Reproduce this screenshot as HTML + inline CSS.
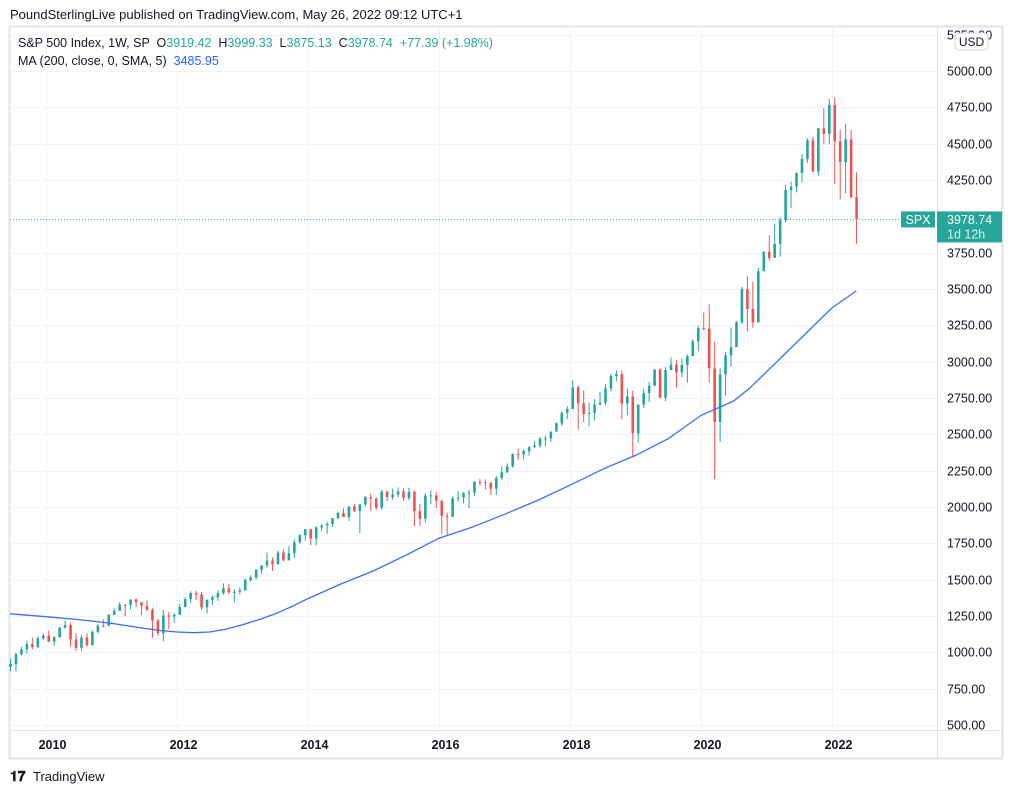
<!DOCTYPE html>
<html><head><meta charset="utf-8">
<style>
body{margin:0;background:#fff;font-family:"Liberation Sans",sans-serif;}
#wrap{position:relative;width:1017px;height:793px;overflow:hidden;}
.pre{white-space:pre;}
</style></head>
<body>
<div id="wrap">
<svg id="svg" width="1017" height="793" xmlns="http://www.w3.org/2000/svg">
<text x="10" y="19" font-size="13" fill="#131722">PoundSterlingLive published on TradingView.com, May 26, 2022 09:12 UTC+1</text>
<rect x="9.5" y="26.5" width="993" height="732" fill="#fff" stroke="#e0e3eb" stroke-width="2"/>
<g id="grid"></g>
<line x1="937.5" y1="27" x2="937.5" y2="758" stroke="#e0e3eb"/>
<line x1="10" y1="730.5" x2="1002" y2="730.5" stroke="#e0e3eb"/>
<g id="candles"></g>
<path id="ma" fill="none" stroke="#3d6ef5" stroke-width="1.3"/>
<line id="lastline" x1="10" x2="900" stroke="#26a69a" stroke-dasharray="1,2"/>
<g id="yaxis"></g>
<g id="xaxis"></g>
<g font-size="12.5">
<text class="pre" x="18" y="47" fill="#131722">S&amp;P 500 Index, 1W, SP  O<tspan fill="#26a69a">3919.42</tspan>  H<tspan fill="#26a69a">3999.33</tspan>  L<tspan fill="#26a69a">3875.13</tspan>  C<tspan fill="#26a69a">3978.74</tspan>  <tspan fill="#26a69a">+77.39 (+1.98%)</tspan></text>
<text class="pre" x="18" y="65" fill="#131722">MA (200, close, 0, SMA, 5)  <tspan fill="#2962ff">3485.95</tspan></text>
</g>
<rect x="955" y="33" width="33" height="17" rx="4" fill="#fff" stroke="#d1d4dc"/>
<text x="971.5" y="46" font-size="12" fill="#131722" text-anchor="middle">USD</text>
<g id="lastlabel"></g>
<g>
<text x="10" y="781" font-size="14" font-weight="bold" fill="#131722">𝟏𝟕</text>
<text x="33" y="781" font-size="13" fill="#131722">TradingView</text>
</g>
</svg>
</div>
<script>
const closes=[919,987,1021,1057,1036,1096,1115,
1074,1104,1169,1187,1089,1031,1102,1049,1141,1183,1181,1258,
1286,1327,1326,1364,1345,1321,1292,1219,1131,1253,1247,1258,
1312,1366,1408,1398,1310,1362,1379,1407,1441,1412,1416,1426,
1498,1515,1569,1598,1631,1606,1686,1633,1682,1757,1806,1848,
1783,1859,1872,1884,1924,1960,1931,2003,1972,2018,2068,2059,
1995,2105,2068,2086,2107,2063,2104,1972,1920,2079,2080,2044,
1940,1932,2060,2065,2097,2099,2174,2171,2168,2126,2199,2239,
2279,2364,2363,2384,2412,2423,2470,2472,2519,2575,2648,2674,
2824,2714,2641,2648,2705,2718,2816,2902,2914,2712,2760,2507,
2704,2784,2834,2946,2752,2942,2980,2926,2977,3038,3141,3231,
3226,2954,2585,2912,3044,3100,3271,3500,3363,3270,3622,3756,
3714,3811,3973,4181,4204,4298,4395,4523,4308,4605,4567,4766,
4516,4374,4530,4132,3979];
const highs=[956,996,1039,1080,1101,1113,1130,
1150,1112,1174,1220,1207,1131,1120,1129,1150,1197,1227,1263,
1303,1344,1332,1364,1371,1346,1357,1304,1230,1293,1278,1270,
1333,1378,1420,1422,1415,1364,1392,1426,1475,1470,1435,1448,
1510,1530,1570,1598,1687,1654,1698,1710,1730,1776,1813,1849,
1850,1868,1884,1897,1924,1968,1991,2005,2019,2018,2076,2093,
2065,2119,2114,2126,2135,2130,2133,2113,2021,2094,2116,2104,
2038,1962,2072,2111,2103,2120,2177,2193,2188,2169,2214,2278,
2300,2371,2401,2398,2418,2454,2484,2491,2519,2582,2657,2694,
2873,2835,2801,2718,2742,2791,2848,2916,2941,2940,2815,2800,
2708,2813,2860,2949,2954,2964,3028,3013,3021,3050,3154,3248,
3338,3394,3136,2955,3068,3233,3280,3514,3588,3550,3646,3760,
3870,3950,3995,4218,4238,4302,4429,4538,4546,4608,4743,4808,
4818,4595,4637,4593,4303];
const lows=[869,870,979,992,1020,1029,1085,
1071,1045,1101,1163,1040,1011,1011,1040,1050,1131,1174,1181,
1256,1295,1250,1294,1311,1258,1283,1101,1114,1075,1159,1203,
1258,1311,1340,1358,1292,1267,1325,1354,1396,1403,1343,1399,
1426,1485,1501,1537,1581,1560,1605,1627,1633,1647,1747,1768,
1737,1738,1834,1815,1863,1915,1931,1904,1964,1821,2001,1972,
1981,1981,2040,2049,2067,2044,2045,1867,1872,1894,2019,1993,
1812,1810,1937,2034,2025,1992,2074,2147,2120,2083,2084,2187,
2233,2271,2322,2329,2353,2405,2407,2417,2446,2520,2557,2605,
2683,2533,2585,2553,2594,2699,2698,2796,2865,2604,2631,2346,
2443,2681,2722,2848,2750,2729,2952,2822,2892,2856,3050,3070,
3214,2855,2192,2447,2766,2966,3101,3260,3209,3234,3279,3633,
3694,3725,3723,3956,4057,4165,4233,4368,4306,4279,4496,4495,
4223,4115,4157,4124,3811];
const firstOpen=900;
const maTimes=[2009.4,2010.0,2010.5,2011.0,2011.5,2011.75,2012.0,2012.25,2012.5,2012.75,2013.0,2013.25,2013.5,2013.75,2014.0,2014.5,2015.0,2015.5,2016.0,2016.5,2017.0,2017.5,2018.0,2018.5,2019.0,2019.5,2020.0,2020.25,2020.5,2020.75,2021.0,2021.25,2021.5,2021.75,2022.0,2022.37];
const maValues=[1265,1245,1225,1200,1165,1150,1140,1135,1140,1160,1190,1225,1265,1315,1370,1470,1560,1670,1785,1860,1950,2045,2150,2260,2355,2470,2630,2680,2730,2820,2930,3040,3150,3260,3370,3486];
const yTicks=[500,750,1000,1250,1500,1750,2000,2250,2500,2750,3000,3250,3500,3750,4000,4250,4500,4750,5000,5250];
const xTicks=[2010,2012,2014,2016,2018,2020,2022];
const lastPrice=3978.74;
const startYear=2009+5/12;

const NS="http://www.w3.org/2000/svg";
function Y(p){return 725-(p-500)*654/4500;}
function X(t){return 46+(t-2010)*65.5;}
function mk(tag,attrs,parent){const e=document.createElementNS(NS,tag);for(const k in attrs)e.setAttribute(k,attrs[k]);parent.appendChild(e);return e;}
const grid=document.getElementById('grid'),ya=document.getElementById('yaxis'),xa=document.getElementById('xaxis');
yTicks.forEach(v=>{const y=Math.round(Y(v))+0.5;
 if(y>27&&y<730){const l=mk('line',{x1:10,x2:937,y1:y,y2:y,stroke:'#f0f3fa'},grid);
 
 }
 const t=mk('text',{x:947,y:y+4,'font-size':12.5,fill:'#131722'},ya);t.textContent=v.toFixed(2);
 
 });
xTicks.forEach(v=>{const x=Math.round(X(v))+0.5;
 const l=mk('line',{x1:x,x2:x,y1:27,y2:730,stroke:'#f0f3fa'},grid);
 
 
 const t=mk('text',{x:x+6,y:749,'font-size':12.5,'font-weight':'bold','text-anchor':'middle',fill:'#131722'},xa);t.textContent=v;
 
 });
const cg=document.getElementById('candles');
const bw=2.6;
closes.forEach((c,i)=>{const o=i===0?firstOpen:closes[i-1];const t=startYear+(i+0.5)/12;const x=X(t);
 const col=c>=o?'#26a69a':'#ef5350';
 const w=mk('line',{x1:x,x2:x,y1:Y(highs[i]),y2:Y(lows[i]),stroke:col,'stroke-width':1},cg);
 
 
 const top=Y(Math.max(o,c)),bot=Y(Math.min(o,c));
 const r=mk('rect',{x:x-bw/2,y:top,width:bw,height:Math.max(1,bot-top),fill:col},cg);
 
 });
document.getElementById('ma').setAttribute('d',maTimes.map((t,i)=>(i?'L':'M')+Math.max(10,X(t)).toFixed(1)+','+Y(maValues[i]).toFixed(1)).join(''));
const ly=Y(lastPrice);const ll=document.getElementById('lastline');ll.setAttribute('y1',ly);ll.setAttribute('y2',ly);
const lg=document.getElementById('lastlabel');
const r1=mk('rect',{x:901,y:ly-8,width:34,height:16,fill:'#26a69a'},lg);


const t1=mk('text',{x:918,y:ly+4.5,'font-size':12.5,fill:'#fff','text-anchor':'middle'},lg);t1.textContent='SPX';


const r2=mk('rect',{x:937,y:ly-8,width:65,height:31,fill:'#26a69a'},lg);


const t2=mk('text',{x:947,y:ly+4.5,'font-size':12.5,fill:'#fff'},lg);t2.textContent=lastPrice.toFixed(2);


const t3=mk('text',{x:947,y:ly+19,'font-size':12.5,fill:'#d8f0ee'},lg);t3.textContent='1d 12h';


</script>
</body></html>
